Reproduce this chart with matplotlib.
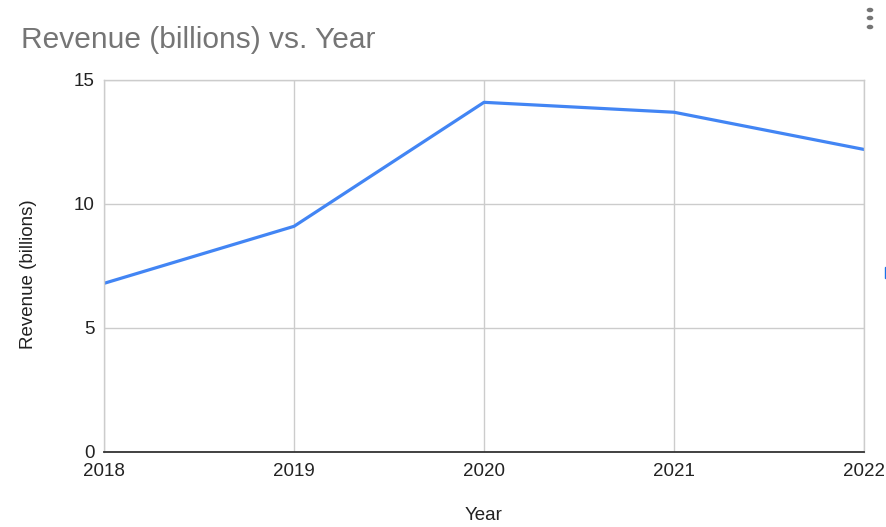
import matplotlib.pyplot as plt
from matplotlib.patches import Circle, Rectangle

years = [2018, 2019, 2020, 2021, 2022]
revenue = [6.8, 9.1, 14.1, 13.7, 12.2]
y_ticks = [0, 5, 10, 15]

plt.rcParams['font.family'] = ['Liberation Sans', 'DejaVu Sans']

W, H = 887, 527
fig = plt.figure(figsize=(W / 100, H / 100), dpi=100)
ax = fig.add_axes([104 / W, 1 - 452 / H, (864 - 104) / W, (452 - 80) / H])

ax.plot(years, revenue, color='#4285f4', linewidth=2.3, solid_joinstyle='round')

ax.set_xlim(years[0], years[-1])
ax.set_ylim(0, 15)
ax.set_xticks(years)
ax.set_yticks(y_ticks)
ax.grid(True, color='#cccccc', linewidth=1)
ax.set_axisbelow(True)
for side in ['top', 'right', 'left']:
    ax.spines[side].set_color('#cccccc')
    ax.spines[side].set_linewidth(1)
ax.spines['bottom'].set_color('#333333')
ax.spines['bottom'].set_linewidth(1.3)
ax.tick_params(length=0, labelsize=13.5, colors='#222222')
ax.tick_params(axis='y', pad=7)
ax.tick_params(axis='x', pad=8)

ax.set_xlabel('Year', fontsize=13.5, color='#222222', va='center')
ax.xaxis.set_label_coords(0.5, (452 - 515) / 372)
ax.set_ylabel('Revenue (billions)', fontsize=13.5, color='#222222', va='center')
ax.yaxis.set_label_coords((29 - 104) / 760, (452 - 274) / 372)

fig.text(21 / W, 1 - 48 / H, 'Revenue (billions) vs. Year', fontsize=21.5,
         color='#757575', ha='left', va='baseline')

# menu dots in top-right corner
for yy in (10, 18, 27):
    fig.patches.append(Circle((870 / W, 1 - yy / H), 2.6 / W, color='#757575',
                              transform=fig.transFigure))
fig.patches.append(Rectangle((885 / W, 1 - 278 / H), 2 / W, 11 / H, color='#1a73e8',
                             transform=fig.transFigure))

fig.savefig('out.png', dpi=100)
